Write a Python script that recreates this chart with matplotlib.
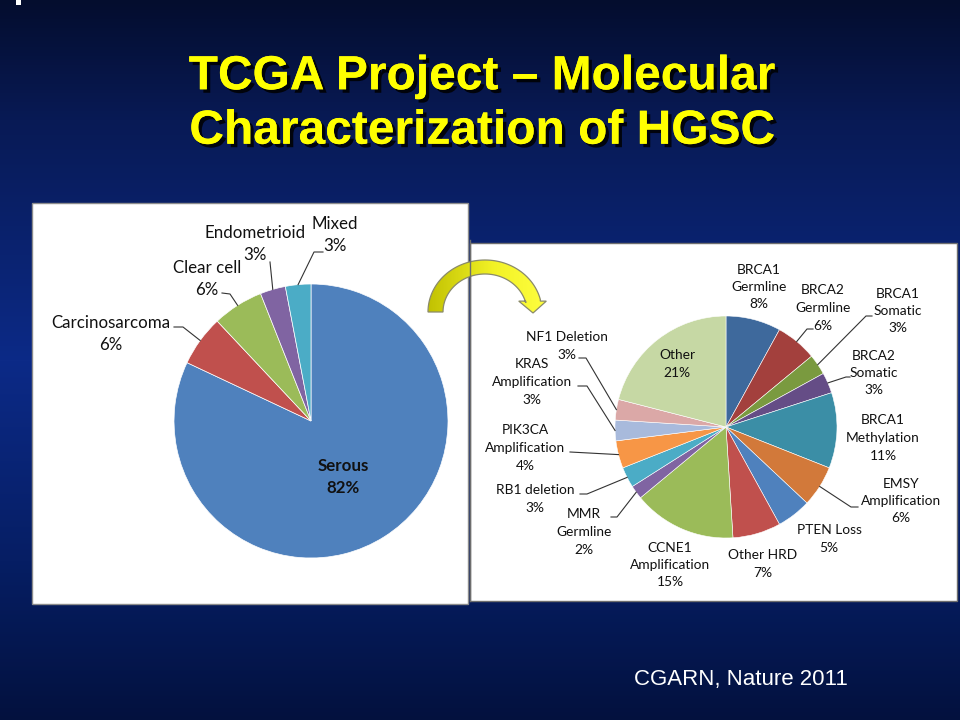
import numpy as np
import matplotlib
matplotlib.use("Agg")
import matplotlib.pyplot as plt
from matplotlib.patches import Rectangle, Polygon
import matplotlib.patheffects as pe

# ---------------- data ----------------
left_labels = ["Serous", "Carcinosarcoma", "Clear cell", "Endometrioid", "Mixed"]
left_values = [82, 6, 6, 3, 3]
left_colors = ["#4F81BD", "#C0504D", "#9BBB59", "#8064A2", "#4BACC6"]

right_labels = ["BRCA1\nGermline", "BRCA2\nGermline", "BRCA1\nSomatic", "BRCA2\nSomatic",
                "BRCA1\nMethylation", "EMSY\nAmplification", "PTEN Loss", "Other HRD",
                "CCNE1\nAmplification", "MMR\nGermline", "RB1 deletion", "PIK3CA\nAmplification",
                "KRAS\nAmplification", "NF1 Deletion", "Other"]
right_values = [8, 6, 3, 3, 11, 6, 5, 7, 15, 2, 3, 4, 3, 3, 21]
right_colors = ["#3E699C", "#A3403D", "#7A9A3F", "#654D86", "#3B8EA6", "#D2793A",
                "#4F81BD", "#C0504D", "#9BBB59", "#8064A2", "#4BACC6", "#F79646",
                "#A8BADC", "#DBA8A7", "#C6D8A4"]

title = "TCGA Project \u2013 Molecular\nCharacterization of HGSC"
source = "CGARN, Nature 2011"

W, H = 960, 720
FONT = ["Lato", "DejaVu Sans"]

fig = plt.figure(figsize=(9.6, 7.2), dpi=100)

# ---------------- background ----------------
ax0 = fig.add_axes([0, 0, 1, 1])
ax0.set_xlim(0, W); ax0.set_ylim(H, 0); ax0.axis("off")
stops_y = np.array([0, 120, 360, 560, 720])
stops_c = np.array([[4, 13, 46], [8, 26, 85], [12, 42, 135], [6, 30, 100], [3, 17, 62]]) / 255
yy = np.arange(H)
grad = np.stack([np.interp(yy, stops_y, stops_c[:, k]) for k in range(3)], axis=1)
img = np.repeat(grad[:, None, :], 8, axis=1)
ax0.imshow(img, extent=[0, W, H, 0], aspect="auto", zorder=0)
ax0.add_patch(Rectangle((16, 0), 5, 5, fc="white", ec="none", zorder=1))

# panels
ax0.add_patch(Rectangle((32, 203), 436, 401, fc="white", ec="#8c8c8c", lw=1, zorder=2))
ax0.add_patch(Rectangle((470, 243), 487, 358, fc="white", ec="#6e6e6e", lw=1, zorder=2))

# title + source
ax0.text(482, 104, title, ha="center", va="center", fontsize=34.5, fontweight="bold",
         color="#FFFF00", family=["Liberation Sans", "DejaVu Sans"], linespacing=1.27,
         path_effects=[pe.withSimplePatchShadow(offset=(2.5, -2.5), shadow_rgbFace="#000000", alpha=0.85),
                       pe.Normal()],
         zorder=5)
ax0.text(741, 680, source, ha="center", va="center", fontsize=16, color="white",
         family=["Liberation Sans", "DejaVu Sans"], zorder=5)


def pie_axes(cx, cy, r):
    return fig.add_axes([(cx - r) / W, (H - cy - r) / H, 2 * r / W, 2 * r / H])


def rim_points(values, cx, cy, r):
    tot = float(sum(values))
    cum = np.cumsum([0] + list(values))[:-1]
    pts = []
    for c, v in zip(cum, values):
        f = (c + v / 2.0) / tot
        a = np.deg2rad(90 - 360 * f)
        pts.append((cx + r * np.cos(a), cy - r * np.sin(a)))
    return pts


# ---------------- left pie ----------------
LCX, LCY, LR = 311, 421, 137
axl = pie_axes(LCX, LCY, LR)
axl.pie(left_values, colors=left_colors, startangle=90, counterclock=False, radius=1,
        wedgeprops=dict(edgecolor="#ffffff", linewidth=0.5))
axl.set_xlim(-1, 1); axl.set_ylim(-1, 1); axl.set_aspect("equal"); axl.axis("off")

# ---------------- right pie ----------------
RCX, RCY, RR = 726, 427, 111
axr = pie_axes(RCX, RCY, RR)
axr.pie(right_values, colors=right_colors, startangle=90, counterclock=False, radius=1,
        wedgeprops=dict(edgecolor="#ffffff", linewidth=0.4))
axr.set_xlim(-1, 1); axr.set_ylim(-1, 1); axr.set_aspect("equal"); axr.axis("off")

# ---------------- top overlay ----------------
ax1 = fig.add_axes([0, 0, 1, 1], zorder=10)
ax1.set_xlim(0, W); ax1.set_ylim(H, 0); ax1.axis("off"); ax1.patch.set_alpha(0)

left_pos = [(343, 477), (111, 334), (207, 279), (255, 244), (335, 235)]
left_knees = [None, [(174, 327), (183, 327)], [(222, 293), (230, 294)], [(270, 262)],
              [(323, 252), (314, 252)]]
lrim = rim_points(left_values, LCX, LCY, LR)
for i, (lab, v) in enumerate(zip(left_labels, left_values)):
    x, y = left_pos[i]
    ax1.text(x, y, f"{lab}\n{v}%", ha="center", va="center", fontsize=12.2,
             fontweight="bold" if i == 0 else "normal", color="#111111", family=FONT,
             linespacing=1.42)
    if left_knees[i]:
        pts = left_knees[i] + [lrim[i]]
        ax1.plot([p[0] for p in pts], [p[1] for p in pts], color="#333333", lw=0.8)

right_pos = [(759, 287), (823, 308), (898, 311), (874, 373), (883, 438), (901, 501),
             (829, 539), (763, 564), (670, 565), (584, 532), (535, 499), (525, 448),
             (532, 382), (567, 346), (677, 364)]
right_knees = [None, [(813, 329), (807, 329)], [(872, 316), (866, 316)],
               [(850, 377), (846, 377)], None, [(858, 507), (851, 507)], None, None, None,
               [(611, 517), (617, 517)], [(580, 494), (587, 494)], [(570, 452)],
               [(578, 386), (587, 386)], [(579, 358), (586, 358)], None]
rrim = rim_points(right_values, RCX, RCY, RR)
for i, (lab, v) in enumerate(zip(right_labels, right_values)):
    x, y = right_pos[i]
    ax1.text(x, y, f"{lab}\n{v}%", ha="center", va="center", fontsize=9.9,
             color="#111111", family=FONT, linespacing=1.55)
    if right_knees[i]:
        pts = right_knees[i] + [rrim[i]]
        ax1.plot([p[0] for p in pts], [p[1] for p in pts], color="#333333", lw=0.8)

# curved block arrow (semi-elliptical shaft + head)
acx, acy = 485, 312
ao_a, ao_b = 57, 52
ai_a, ai_b = 42, 38
th = np.deg2rad(np.linspace(180, 14, 60))
outer = np.column_stack([acx + ao_a * np.cos(th), acy - ao_b * np.sin(th)])
inner = np.column_stack([acx + ai_a * np.cos(th[::-1]), acy - ai_b * np.sin(th[::-1])])
ox, oy = outer[-1]
ix, iy = inner[0]
base_y = (oy + iy) / 2
head = np.array([[ox + 6, base_y], [ix + (ox - ix) / 2, 313], [ix - 7, base_y]])
poly = np.vstack([outer, [[ox, base_y]], head, [[ix, base_y]], inner])
arrow = Polygon(poly, closed=True, fc="none", ec="#8a8a6a", lw=0.9, zorder=4)
ax1.add_patch(arrow)
agx = np.linspace(0, 1, 64)
acols = np.array([[0.75, 0.75, 0.0], [0.95, 0.95, 0.15], [1.0, 1.0, 0.25]])
agrad = np.stack([np.interp(agx, [0, 0.55, 1], acols[:, k]) for k in range(3)], axis=1)
aim = ax1.imshow(agrad[None, :, :], extent=[425, 550, 318, 255], aspect="auto", zorder=3)
aim.set_clip_path(arrow)
ax1.set_xlim(0, W); ax1.set_ylim(H, 0)
ax1.plot([470, 470], [240, 601], color="#6e6e6e", lw=1, zorder=5)

fig.savefig("out.png", dpi=100)
